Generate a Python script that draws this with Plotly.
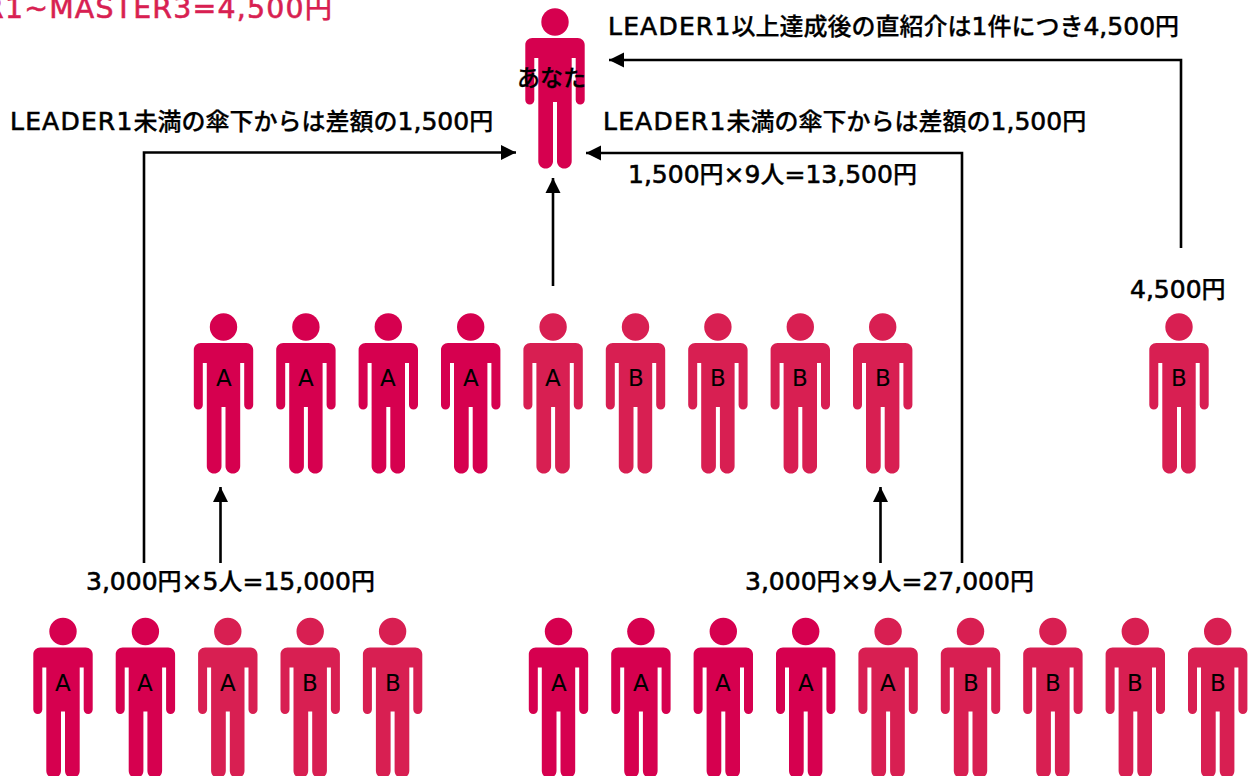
import re
import plotly.graph_objects as go

# ---- content ----
top_label = "あなた"
row2_labels = ["A", "A", "A", "A", "A", "B", "B", "B", "B"]
row2_dark = [1, 1, 1, 1, 0, 0, 0, 0, 0]
side_label = ["B"]
left_labels = ["A", "A", "A", "B", "B"]
left_dark = [1, 1, 0, 0, 0]
right_labels = ["A", "A", "A", "A", "A", "B", "B", "B", "B"]
right_dark = [1, 1, 1, 1, 0, 0, 0, 0, 0]

title_text = "LEADER1~MASTER3=4,500円"
note_direct = "LEADER1以上達成後の直紹介は1件につき4,500円"
note_diff = "LEADER1未満の傘下からは差額の1,500円"
sum_top = "1,500円×9人=13,500円"
sum_side = "4,500円"
sum_left = "3,000円×5人=15,000円"
sum_right = "3,000円×9人=27,000円"

# ---- styles / layout ----
DARK = "#D6004F"
LIGHT = "#D81F52"
FONT = "DejaVu Sans, Noto Sans CJK JP"
STEP = 82.4
K = 0.5523


def person_path(cx, cy):
    hw, aw, tw, gap = 29.7, 20.7, 16.7, 2.0
    sh = cy + 16
    r = 7.0
    ar = 4.5
    lr = (tw - gap) / 2
    arm_b = cy + 82.6
    leg_b = cy + 146.6
    ag = cy + 36
    lg = cy + 80
    x = lambda v: cx + v
    c = lambda a, b, e, f, g, h: f"C{x(a)},{b} {x(e)},{f} {x(g)},{h} "
    p = f"M{x(-hw + r)},{sh} L{x(hw - r)},{sh} "
    p += c(hw - r + r * K, sh, hw, sh + r - r * K, hw, sh + r)
    p += f"L{x(hw)},{arm_b - ar} "
    p += c(hw, arm_b - ar + ar * K, hw - ar + ar * K, arm_b, hw - ar, arm_b)
    p += c(hw - ar - ar * K, arm_b, aw, arm_b - ar + ar * K, aw, arm_b - ar)
    p += f"L{x(aw)},{ag} L{x(tw)},{ag} L{x(tw)},{leg_b - lr} "
    p += c(tw, leg_b - lr + lr * K, tw - lr + lr * K, leg_b, tw - lr, leg_b)
    p += c(tw - lr - lr * K, leg_b, gap, leg_b - lr + lr * K, gap, leg_b - lr)
    p += f"L{x(gap)},{lg} L{x(-gap)},{lg} L{x(-gap)},{leg_b - lr} "
    p += c(-gap, leg_b - lr + lr * K, -gap - lr + lr * K, leg_b, -gap - lr, leg_b)
    p += c(-tw + lr - lr * K, leg_b, -tw, leg_b - lr + lr * K, -tw, leg_b - lr)
    p += f"L{x(-tw)},{ag} L{x(-aw)},{ag} L{x(-aw)},{arm_b - ar} "
    p += c(-aw, arm_b - ar + ar * K, -hw + ar + ar * K, arm_b, -hw + ar, arm_b)
    p += c(-hw + ar - ar * K, arm_b, -hw, arm_b - ar + ar * K, -hw, arm_b - ar)
    p += f"L{x(-hw)},{sh + r} "
    p += c(-hw, sh + r - r * K, -hw + r - r * K, sh, -hw + r, sh)
    return p + "Z"


shapes, annos = [], []


def styled(s, size, color):
    """Latin runs are a little larger than the CJK glyphs, capitals tracked out; all slightly emboldened."""
    latin = size * 1.04

    def repl(m):
        run = m.group(0)
        if re.match(r"[A-Za-z0-9,=×~]", run):
            track = "letter-spacing:1.2px;" if re.search("[A-Z]", run) else ""
            return (f'<span style="font-size:{latin:.1f}px;{track}'
                    f'stroke:{color};stroke-width:0.6px">{run}</span>')
        return f'<span style="stroke:{color};stroke-width:0.25px">{run}</span>'

    return re.sub(r"[A-Za-z0-9,=×~]+|[^A-Za-z0-9,=×~]+", repl, s)


def text(s, x, y, size=24, anchor="center", color="#000000", weight=500):
    annos.append(dict(text=styled(s, size, color), x=x, y=y, xref="x", yref="y", xanchor=anchor, yanchor="middle",
                      showarrow=False, font=dict(family=FONT, size=size, color=color, weight=weight)))


def person(cx, cy, color, label):
    shapes.append(dict(type="path", xref="x", yref="y", path=person_path(cx, cy),
                       fillcolor=color, line=dict(width=0), layer="below"))
    shapes.append(dict(type="circle", xref="x", yref="y", x0=cx - 13.7, x1=cx + 13.7,
                       y0=cy - 13.7, y1=cy + 13.7, fillcolor=color, line=dict(width=0), layer="below"))
    if label:
        annos.append(dict(text=label, x=cx, y=cy + 51, xref="x", yref="y", xanchor="center", yanchor="middle",
                          showarrow=False, font=dict(family=FONT, size=23, color="#000", weight=400)))


def connector(pts, direction):
    d = "M" + " L".join(f"{a},{b}" for a, b in pts)
    shapes.append(dict(type="path", xref="x", yref="y", path=d, line=dict(color="#000", width=2.6)))
    tx, ty = pts[-1]
    L, H = 15, 7.5
    if direction == "left":
        head = f"M{tx},{ty} L{tx + L},{ty - H} L{tx + L},{ty + H} Z"
    elif direction == "right":
        head = f"M{tx},{ty} L{tx - L},{ty - H} L{tx - L},{ty + H} Z"
    else:
        head = f"M{tx},{ty} L{tx - H},{ty + L} L{tx + H},{ty + L} Z"
    shapes.append(dict(type="path", xref="x", yref="y", path=head, fillcolor="#000", line=dict(width=0)))


person(555, 22, DARK, None)
for i, (l, dk) in enumerate(zip(row2_labels, row2_dark)):
    person(223.5 + i * STEP, 327, DARK if dk else LIGHT, l)
person(1179, 327, LIGHT, side_label[0])
for i, (l, dk) in enumerate(zip(left_labels, left_dark)):
    person(63 + i * STEP, 631.5, DARK if dk else LIGHT, l)
for i, (l, dk) in enumerate(zip(right_labels, right_dark)):
    person(558.5 + i * STEP, 631.5, DARK if dk else LIGHT, l)

connector([(1181, 248), (1181, 60), (609, 60)], "left")
connector([(144, 563), (144, 152.5), (516, 152.5)], "right")
connector([(962, 563), (962, 153), (586, 153)], "left")
connector([(553, 286), (553, 178)], "up")
connector([(220.5, 563), (220.5, 487)], "up")
connector([(880.5, 563), (880.5, 487)], "up")

text(top_label, 551.5, 78, size=23)
text(title_text, 334, 8, size=27.3, anchor="right", color=LIGHT, weight=500)
text(note_direct, 893.5, 26)
text(note_diff, 251.5, 121)
text(note_diff, 844, 121)
text(sum_top, 772, 174)
text(sum_side, 1178, 289)
text(sum_left, 230.5, 581)
text(sum_right, 889, 581)

fig = go.Figure()
fig.update_layout(
    width=1258, height=776, margin=dict(l=0, r=0, t=0, b=0),
    paper_bgcolor="white", plot_bgcolor="white", showlegend=False,
    xaxis=dict(range=[0, 1258], visible=False, fixedrange=True),
    yaxis=dict(range=[776, 0], visible=False, fixedrange=True),
    shapes=shapes, annotations=annos,
)
fig.write_html("out.html", config=dict(displayModeBar=False),
               post_script="document.body.style.margin='0';")
